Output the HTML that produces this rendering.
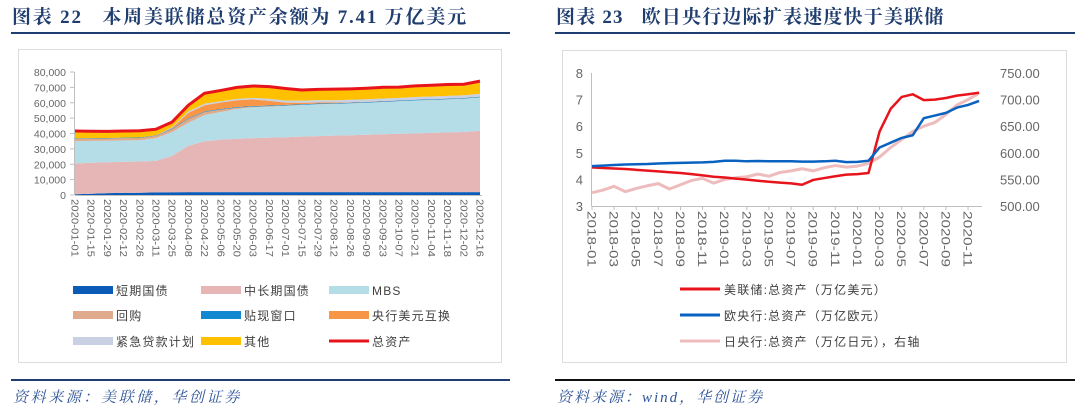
<!DOCTYPE html>
<html><head><meta charset="utf-8">
<style>
html,body{margin:0;padding:0;background:#fff;}
svg{display:block;}
.title{font-family:"Liberation Serif","Noto Serif CJK SC",serif;font-weight:bold;font-size:19px;fill:#1f3d6e;}
.src{font-family:"Liberation Serif","Noto Serif CJK SC",serif;font-style:italic;font-size:15px;fill:#2f5597;}
.tick{font-family:"Liberation Sans","Noto Sans CJK SC",sans-serif;font-size:10.5px;fill:#666;}
.leg{font-family:"Liberation Sans","Noto Sans CJK SC",sans-serif;font-size:12px;fill:#404040;letter-spacing:1.2px;}
</style></head>
<body>
<svg id="page" width="1080" height="414" viewBox="0 0 1080 414" xmlns="http://www.w3.org/2000/svg">
  <text class="title" x="12" y="23" style="letter-spacing:1.8px">图表 22&#160;&#160;&#160;本周美联储总资产余额为 7.41 万亿美元</text>
  <rect x="11" y="32" width="499" height="2" fill="#1f3d6e"/>
  <rect x="18.5" y="49.5" width="483" height="313" fill="#fff" stroke="#dcdcdc"/>
  <g id="leftChart"></g>
  <g id="leftLegend"></g>
  <rect x="11" y="379" width="499" height="2" fill="#1f3d6e"/>
  <text class="src" x="13" y="402" style="letter-spacing:2.6px">资料来源：美联储，华创证券</text>

  <text class="title" x="556" y="23" style="letter-spacing:1.2px">图表 23&#160;&#160;&#160;欧日央行边际扩表速度快于美联储</text>
  <rect x="555" y="32" width="520" height="2" fill="#1f3d6e"/>
  <rect x="562.5" y="50.5" width="504" height="312" fill="#fff" stroke="#dcdcdc"/>
  <g id="rightChart"></g>
  <g id="rightLegend"></g>
  <rect x="555" y="379" width="520" height="2" fill="#111"/>
  <text class="src" x="557" y="402" style="letter-spacing:2px">资料来源：wind，华创证券</text>
</svg>
<script>
var dates = ["2020-01-01","2020-01-15","2020-01-29","2020-02-12","2020-02-26","2020-03-11","2020-03-25","2020-04-08","2020-04-22","2020-05-06","2020-05-20","2020-06-03","2020-06-17","2020-07-01","2020-07-15","2020-07-29","2020-08-12","2020-08-26","2020-09-09","2020-09-23","2020-10-07","2020-10-21","2020-11-04","2020-11-18","2020-12-02","2020-12-16"];
var shortTerm = [500,800,1200,1400,1500,1700,1800,1900,1900,1900,1900,1900,1900,1900,1900,1900,1900,1900,1900,1900,1900,1900,1900,1900,1900,1900];
var longTerm = [20000,20200,20100,20200,20300,20500,23700,30100,33100,34100,34600,35100,35400,35700,36100,36400,36700,37000,37300,37600,37900,38200,38500,38800,39100,39900];
var mbs = [14500,14200,14000,13900,13800,14800,15500,15000,17000,18000,19500,20000,20200,20400,20500,20700,20600,20700,20800,21000,21200,21400,21400,21500,21600,21700];
var repo = [1500,1500,1500,1500,1500,1500,1800,2500,2000,1500,800,500,300,200,100,100,50,50,50,50,50,50,50,50,50,50];
var discountWindow = [300,300,300,300,300,300,400,400,400,400,400,400,400,400,400,400,400,400,400,400,400,400,400,400,400,400];
var swaps = [0,0,0,0,0,0,500,3500,4000,4300,4400,4300,3000,1500,1000,700,500,300,200,200,100,100,100,100,100,100];
var facilities = [0,0,0,0,0,0,500,1000,1000,800,900,1000,1300,1400,1400,1500,1500,1600,1600,1600,1600,1700,1700,1700,1700,1800];
var other = [4800,4500,4300,4300,4400,4000,3300,4000,6800,7000,7500,7700,8000,7800,6900,7000,7200,7100,7200,7300,7000,7200,7300,7400,7200,8200];
var leftTicks = [0,10000,20000,30000,40000,50000,60000,70000,80000];
var leftTickLabels = ["0","10,000","20,000","30,000","40,000","50,000","60,000","70,000","80,000"];

var months = ["2018-01","2018-02","2018-03","2018-04","2018-05","2018-06","2018-07","2018-08","2018-09","2018-10","2018-11","2018-12","2019-01","2019-02","2019-03","2019-04","2019-05","2019-06","2019-07","2019-08","2019-09","2019-10","2019-11","2019-12","2020-01","2020-02","2020-03","2020-04","2020-05","2020-06","2020-07","2020-08","2020-09","2020-10","2020-11","2020-12"];
var fed = [4.45,4.43,4.41,4.39,4.36,4.33,4.30,4.27,4.24,4.20,4.15,4.10,4.07,4.03,3.99,3.95,3.91,3.88,3.85,3.80,3.98,4.05,4.12,4.18,4.20,4.24,5.80,6.65,7.10,7.20,6.98,7.00,7.06,7.15,7.20,7.26];
var ecb = [4.50,4.52,4.54,4.56,4.57,4.58,4.60,4.61,4.62,4.63,4.64,4.66,4.70,4.70,4.68,4.69,4.68,4.68,4.68,4.67,4.67,4.68,4.70,4.65,4.66,4.70,5.20,5.38,5.56,5.66,6.30,6.40,6.50,6.70,6.80,6.95];
var boj = [525,530,537,527,533,538,542,532,540,548,552,543,550,553,555,560,556,563,566,570,566,572,576,573,575,580,592,610,625,640,650,657,672,690,700,712];
var rightLeftTicks = [3,4,5,6,7,8];
var rightRightTicks = [500,550,600,650,700,750];
var rightRightLabels = ["500.00","550.00","600.00","650.00","700.00","750.00"];
var monthTickLabels = ["2018-01","2018-03","2018-05","2018-07","2018-09","2018-11","2019-01","2019-03","2019-05","2019-07","2019-09","2019-11","2020-01","2020-03","2020-05","2020-07","2020-09","2020-11"];

var NS = "http://www.w3.org/2000/svg";
function mk(tag, attrs, parent){var e=document.createElementNS(NS,tag);for(var k in attrs)e.setAttribute(k,attrs[k]);parent.appendChild(e);return e;}

(function(){
  var g=document.getElementById('leftChart');
  var x0=75,x1=480,y0=195,y1=72;
  function X(i){return x0+(x1-x0)*i/(dates.length-1);}
  function Y(v){return y0-(y0-y1)*v/80000;}
  leftTicks.forEach(function(t,i){
    var tx=mk('text',{x:66,y:Y(t)+4,'text-anchor':'end','class':'tick'},g);
    tx.textContent=leftTickLabels[i];
    
    
    var tk=mk('line',{x1:70,x2:74,y1:Y(t),y2:Y(t),stroke:'#bfbfbf'},g);
    
    
  });
  var ax=mk('line',{x1:74.5,x2:74.5,y1:Y(80000),y2:y0,stroke:'#bfbfbf'},g);
  
  
  var layers=[
    {d:shortTerm,c:'#0a5cb8',n:'area-short-term-treasuries'},
    {d:longTerm,c:'#e6b6b6',n:'area-long-term-treasuries'},
    {d:mbs,c:'#b5dde7',n:'area-mbs'},
    {d:repo,c:'#dfab8c',n:'area-repo'},
    {d:discountWindow,c:'#1188d0',n:'area-discount-window'},
    {d:swaps,c:'#f79646',n:'area-cb-swaps'},
    {d:facilities,c:'#c9d0e3',n:'area-facilities'},
    {d:other,c:'#ffc000',n:'area-other'}
  ];
  var base=dates.map(function(){return 0;});
  layers.forEach(function(L){
    var top=base.map(function(b,i){return b+L.d[i];});
    var pts=[];
    for(var i=0;i<dates.length;i++)pts.push(X(i)+','+Y(top[i]));
    for(var i=dates.length-1;i>=0;i--)pts.push(X(i)+','+Y(base[i]));
    var p=mk('polygon',{points:pts.join(' '),fill:L.c},g);
    
    
    base=top;
  });
  var tp=[];for(var i=0;i<dates.length;i++)tp.push(X(i)+','+Y(base[i]));
  var tl=mk('polyline',{points:tp.join(' '),fill:'none',stroke:'#e8141c','stroke-width':3,'stroke-linejoin':'round'},g);
  
  
  var xa=mk('line',{x1:x0,x2:x1+2,y1:y0+0.5,y2:y0+0.5,stroke:'#bfbfbf'},g);
  
  
  dates.forEach(function(d,i){
    var t=mk('text',{'class':'tick',transform:'translate('+(X(i)-3.5)+',199) rotate(90)',textLength:58,lengthAdjust:'spacingAndGlyphs'},g);
    t.textContent=d;
    
    
  });
})();

(function(){
  var g=document.getElementById('leftLegend');
  var items=[
    ['短期国债','#0a5cb8',73,290,0],['中长期国债','#e6b6b6',201,290,0],['MBS','#b5dde7',329,290,0],
    ['回购','#dfab8c',73,315,0],['贴现窗口','#1188d0',201,315,0],['央行美元互换','#f79646',329,315,0],
    ['紧急贷款计划','#c9d0e3',73,341,0],['其他','#ffc000',201,341,0],['总资产','#e8141c',329,341,1]
  ];
  items.forEach(function(it){
    var s=mk('rect',{x:it[2],y:it[3]-(it[4]?1.5:4),width:40,height:it[4]?3:8,fill:it[1]},g);
    
    
    var t=mk('text',{x:it[2]+43,y:it[3]+5,'class':'leg'},g);
    t.textContent=it[0];
    
    
  });
})();

(function(){
  var g=document.getElementById('rightChart');
  var x0=592,step=11.06,yb=206,yt=73;
  function X(i){return x0+step*i;}
  function YL(v){return yb-(yb-yt)*(v-3)/5;}
  function YR(v){return yb-(yb-yt)*(v-500)/250;}
  rightLeftTicks.forEach(function(t){
    var tx=mk('text',{x:583,y:YL(t)+5,'text-anchor':'end','class':'tick',style:'font-size:13px'},g);
    tx.textContent=String(t);
    
    
  });
  rightRightTicks.forEach(function(t,i){
    var tx=mk('text',{x:1000,y:YR(t)+5,'class':'tick',style:'font-size:13px'},g);
    tx.textContent=rightRightLabels[i];
    
    
  });
  var ax=mk('line',{x1:591.5,x2:591.5,y1:yt,y2:yb,stroke:'#bfbfbf'},g);
  
  
  var xa=mk('line',{x1:591.5,x2:982,y1:yb+0.5,y2:yb+0.5,stroke:'#bfbfbf'},g);
  
  
  function line(arr,fy,col,w,name){
    var pts=arr.map(function(v,i){return X(i)+','+fy(v);}).join(' ');
    var p=mk('polyline',{points:pts,fill:'none',stroke:col,'stroke-width':w,'stroke-linejoin':'round'},g);
    
    
  }
  line(boj,YR,'#eebcbc',3,'line-boj');
  line(fed,YL,'#e8141c',2.5,'line-fed');
  line(ecb,YL,'#0a62c0',2.5,'line-ecb');
  monthTickLabels.forEach(function(m){
    var i=months.indexOf(m);
    var tk=mk('line',{x1:X(i),x2:X(i),y1:yb,y2:yb+4,stroke:'#bfbfbf'},g);
    
    
    var t=mk('text',{'class':'tick',style:'font-size:12px',transform:'translate('+(X(i)-4.5)+',211) rotate(90)',textLength:56,lengthAdjust:'spacingAndGlyphs'},g);
    t.textContent=m;
    
    
  });
})();

(function(){
  var g=document.getElementById('rightLegend');
  var items=[['美联储:总资产（万亿美元）','#e8141c',289],['欧央行:总资产（万亿欧元）','#0a62c0',315],['日央行:总资产（万亿日元），右轴','#eebcbc',341]];
  items.forEach(function(it){
    var s=mk('rect',{x:680,y:it[2]-1.5,width:40,height:3,fill:it[1]},g);
    
    
    var t=mk('text',{x:724,y:it[2]+5,'class':'leg'},g);
    t.textContent=it[0];
    
    
  });
})();
</script>
</body></html>
